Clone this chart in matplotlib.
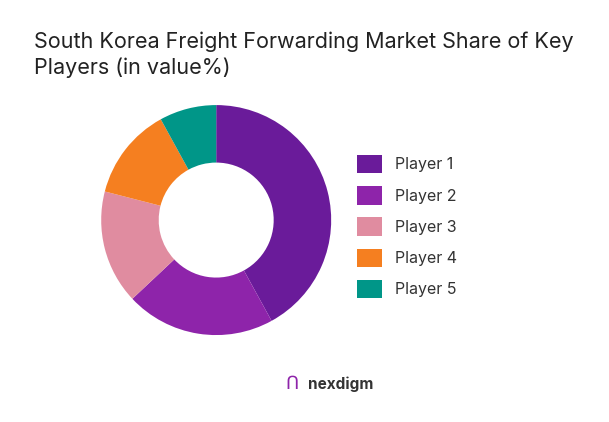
import matplotlib
matplotlib.use("Agg")
import matplotlib.pyplot as plt
from matplotlib.patches import Patch

labels = ["Player 1", "Player 2", "Player 3", "Player 4", "Player 5"]
shares = [42, 21, 16, 13, 8]
colors = ["#6A1B9A", "#8E24AA", "#E08CA0", "#F57F20", "#009688"]

plt.rcParams["font.family"] = ["Inter", "DejaVu Sans"]

fig = plt.figure(figsize=(6.09, 4.22), dpi=100)
fig.patch.set_facecolor("white")

fig.text(0.056, 0.925, "South Korea Freight Forwarding Market Share of Key\nPlayers (in value%)",
         fontsize=15.5, color="#222222", va="top", linespacing=1.35)

ax = fig.add_axes([0.166, 0.206, 0.378, 0.545])
ax.pie(shares, colors=colors, startangle=90, counterclock=False,
       wedgeprops=dict(width=0.5, edgecolor="none"))
ax.set_xlim(-1, 1)
ax.set_ylim(-1, 1)
ax.set_aspect("equal")

handles = [Patch(facecolor=c, label=l) for c, l in zip(colors, labels)]
fig.legend(handles=handles, loc="center left", bbox_to_anchor=(0.562, 0.463),
           frameon=False, fontsize=11.5, handlelength=1.6, handleheight=1.4,
           labelspacing=0.8, labelcolor="#333333")

fig.text(0.505, 0.09, "nexdigm", fontsize=11, color="#333333", ha="left", va="center",
         fontweight="bold")
fig.text(0.48, 0.09, "ᑎ", fontsize=13, color="#8E24AA", ha="center", va="center")

fig.savefig("out.png", dpi=100)
